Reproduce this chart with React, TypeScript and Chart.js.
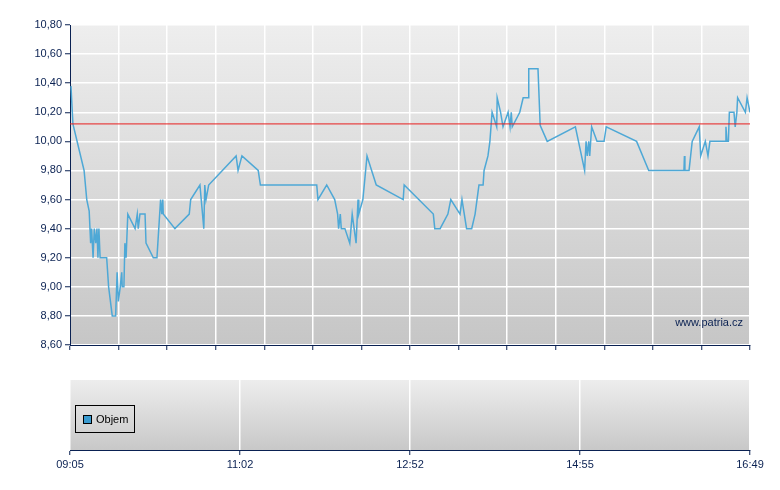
import React, { useEffect, useRef } from "react";
import { Chart, registerables } from "chart.js";

Chart.register(...registerables);

// x position of each trade on the session axis (0 = 09:05, 280 = 16:49)
const TRADE_X = [
  0.4, 1.2, 5.8, 6.9, 7.9, 8.5, 8.9, 9.5, 10.0, 10.6, 11.1, 11.5, 11.9, 12.4, 15.1, 15.9, 17.4, 18.8, 19.4, 19.9,
  20.7, 21.3, 21.5, 22.2, 22.6, 23.1, 23.8, 26.8, 27.7, 28.1, 28.8, 30.9, 31.3, 34.3, 35.8, 37.3, 37.8, 38.2, 38.4, 43.2,
  49.1, 49.7, 53.5, 55.1, 55.5, 56.0, 57.1, 68.4, 69.2, 70.8, 77.5, 78.4, 101.6, 102.1, 105.7, 109.0, 110.2, 110.6, 111.3, 111.7,
  113.2, 115.2, 116.2, 117.8, 118.6, 118.9, 120.6, 122.3, 126.1, 137.2, 137.6, 149.6, 150.2, 152.4, 155.6, 156.8, 160.6, 161.4, 163.3, 165.4,
  166.8, 168.4, 170.1, 170.5, 172.1, 172.9, 173.8, 175.7, 175.9, 177.3, 178.3, 180.4, 181.2, 181.7, 182.1, 182.4, 185.2, 186.6, 188.6, 188.9,
  192.7, 193.6, 196.5, 208.1, 211.9, 212.5, 213.0, 213.6, 214.0, 214.8, 217.0, 219.9, 220.8, 233.3, 238.3, 252.8, 253.0, 253.2, 254.9, 256.2,
  259.1, 259.7, 261.6, 262.7, 263.5, 269.8, 270.1, 270.5, 271.1, 271.5, 273.4, 273.9, 274.6, 274.9, 278.1, 278.8, 280,
];

const TRADE_PRICE = [
  10.38, 10.12, 9.8, 9.6, 9.52, 9.3, 9.4, 9.2, 9.4, 9.3, 9.4, 9.2, 9.4, 9.2, 9.2, 9.0, 8.8, 8.8, 9.1, 8.9,
  9.0, 9.1, 9.0, 9.0, 9.3, 9.2, 9.5, 9.4, 9.5, 9.4, 9.5, 9.5, 9.3, 9.2, 9.2, 9.6, 9.5, 9.6, 9.5, 9.4,
  9.5, 9.6, 9.7, 9.4, 9.7, 9.6, 9.7, 9.9, 9.8, 9.9, 9.8, 9.7, 9.7, 9.6, 9.7, 9.6, 9.5, 9.4, 9.5, 9.4,
  9.4, 9.3, 9.5, 9.3, 9.6, 9.5, 9.6, 9.9, 9.7, 9.6, 9.7, 9.5, 9.4, 9.4, 9.5, 9.6, 9.5, 9.6, 9.4, 9.4,
  9.5, 9.7, 9.7, 9.8, 9.9, 10.0, 10.2, 10.1, 10.3, 10.2, 10.1, 10.2, 10.1, 10.2, 10.1, 10.1, 10.2, 10.3, 10.3, 10.5,
  10.5, 10.11, 10.0, 10.1, 9.8, 10.0, 9.9, 10.0, 9.9, 10.1, 10.0, 10.0, 10.1, 10.0, 9.8, 9.8, 9.9, 9.8, 9.8, 10.0,
  10.1, 9.9, 10.0, 9.9, 10.0, 10.0, 10.1, 10.0, 10.0, 10.2, 10.2, 10.1, 10.2, 10.3, 10.2, 10.3, 10.2,
];

const PREV_CLOSE = 10.12;
const X_MIN = 0;
const X_MAX = 280;
const TIME_TICKS = [0, 70, 140, 210, 280];
const TIME_LABELS = ["09:05", "11:02", "12:52", "14:55", "16:49"];
const Y_MIN = 8.6;
const Y_MAX = 10.8;
const Y_STEP = 0.2;
const WATERMARK = "www.patria.cz";
const VOLUME_LABEL = "Objem";

const NAVY = "#0a2152";
const FONT = "'Liberation Sans', Arial, sans-serif";

const gradientBg = (top: string, bottom: string) => ({
  id: "gradientBg",
  beforeDraw(chart: any) {
    const { ctx, chartArea: a } = chart;
    if (!a) return;
    const g = ctx.createLinearGradient(0, a.top, 0, a.bottom);
    g.addColorStop(0, top);
    g.addColorStop(1, bottom);
    ctx.save();
    ctx.fillStyle = g;
    ctx.fillRect(a.left, a.top, a.right - a.left, a.bottom - a.top);
    ctx.restore();
  },
});

const watermark = {
  id: "watermark",
  afterDraw(chart: any) {
    const { ctx, chartArea: a } = chart;
    ctx.save();
    ctx.font = `11px ${FONT}`;
    ctx.fillStyle = NAVY;
    ctx.textAlign = "right";
    ctx.textBaseline = "middle";
    ctx.fillText(WATERMARK, a.right - 7, a.bottom - 22);
    ctx.restore();
  },
};

export default function App() {
  const priceRef = useRef<HTMLCanvasElement>(null);
  const volRef = useRef<HTMLCanvasElement>(null);

  useEffect(() => {
    const points = TRADE_X.map((x, i) => ({ x, y: TRADE_PRICE[i] }));
    const price = new Chart(priceRef.current!, {
      type: "line",
      data: {
        datasets: [
          {
            data: [
              { x: X_MIN, y: PREV_CLOSE },
              { x: X_MAX, y: PREV_CLOSE },
            ],
            borderColor: "#e81e1e",
            borderWidth: 1,
            pointRadius: 0,
          },
          {
            data: points,
            borderColor: "#4ea8d6",
            borderWidth: 1.5,
            pointRadius: 0,
            tension: 0,
          },
        ],
      },
      options: {
        responsive: false,
        animation: false,
        layout: { padding: { left: 0, right: 30, top: 25, bottom: 0 } },
        plugins: { legend: { display: false }, tooltip: { enabled: false } },
        scales: {
          x: {
            type: "linear",
            min: X_MIN,
            max: X_MAX,
            afterFit: (s: any) => {
              s.height = 15;
            },
            ticks: { display: false, stepSize: 20 },
            grid: { color: "#ffffff", lineWidth: 1.5, tickColor: NAVY, tickLength: 5, tickWidth: 1 },
            border: { color: NAVY, width: 1 },
          },
          y: {
            min: Y_MIN,
            max: Y_MAX,
            afterFit: (s: any) => {
              s.width = 70;
            },
            ticks: {
              stepSize: Y_STEP,
              padding: 3,
              color: NAVY,
              font: { family: FONT, size: 11 },
              callback: (v: any) => Number(v).toFixed(2).replace(".", ","),
            },
            grid: { color: "#ffffff", lineWidth: 1.5, tickColor: NAVY, tickLength: 5, tickWidth: 1 },
            border: { color: NAVY, width: 1 },
          },
        },
      },
      plugins: [gradientBg("#eeeeee", "#c6c6c6"), watermark],
    });

    const vol = new Chart(volRef.current!, {
      type: "line",
      data: { datasets: [{ label: VOLUME_LABEL, data: [], borderColor: "#3a9bd0", backgroundColor: "#3a9bd0" }] },
      options: {
        responsive: false,
        animation: false,
        layout: { padding: { left: 70, right: 30, top: 20, bottom: 0 } },
        plugins: { legend: { display: false }, tooltip: { enabled: false } },
        scales: {
          x: {
            type: "linear",
            offset: false,
            min: X_MIN,
            max: X_MAX,
            afterFit: (s: any) => {
              s.height = 40;
            },
            afterBuildTicks: (s: any) => {
              s.ticks = TIME_TICKS.map((v) => ({ value: v }));
            },
            ticks: {
              padding: 3,
              color: NAVY,
              maxRotation: 0,
              autoSkip: false,
              font: { family: FONT, size: 11 },
              callback: (v: any) => TIME_LABELS[TIME_TICKS.indexOf(Number(v))] ?? "",
            },
            grid: { offset: false, color: "#ffffff", lineWidth: 1.5, tickColor: NAVY, tickLength: 5, tickWidth: 1 },
            border: { color: NAVY, width: 1 },
          },
          y: { display: false, min: 0, max: 1 },
        },
      },
      plugins: [gradientBg("#ededed", "#c8c8c8")],
    });

    return () => {
      price.destroy();
      vol.destroy();
    };
  }, []);

  return (
    <div style={{ position: "absolute", left: 0, top: 0, width: 780, height: 490, background: "#ffffff" }}>
      <canvas ref={priceRef} width={780} height={360} style={{ position: "absolute", left: 0, top: 0 }} />
      <canvas ref={volRef} width={780} height={130} style={{ position: "absolute", left: 0, top: 360 }} />
      <div
        style={{
          position: "absolute",
          left: 75,
          top: 405,
          width: 58,
          height: 26,
          border: "1px solid #000",
          fontFamily: FONT,
          fontSize: 11,
          color: "#000",
          display: "flex",
          alignItems: "center",
          boxSizing: "content-box",
        }}
      >
        <span
          style={{
            display: "inline-block",
            width: 7,
            height: 7,
            background: "#3a9bd0",
            border: "1px solid #000",
            marginLeft: 7,
            marginRight: 4,
          }}
        />
        <span>{VOLUME_LABEL}</span>
      </div>
    </div>
  );
}
